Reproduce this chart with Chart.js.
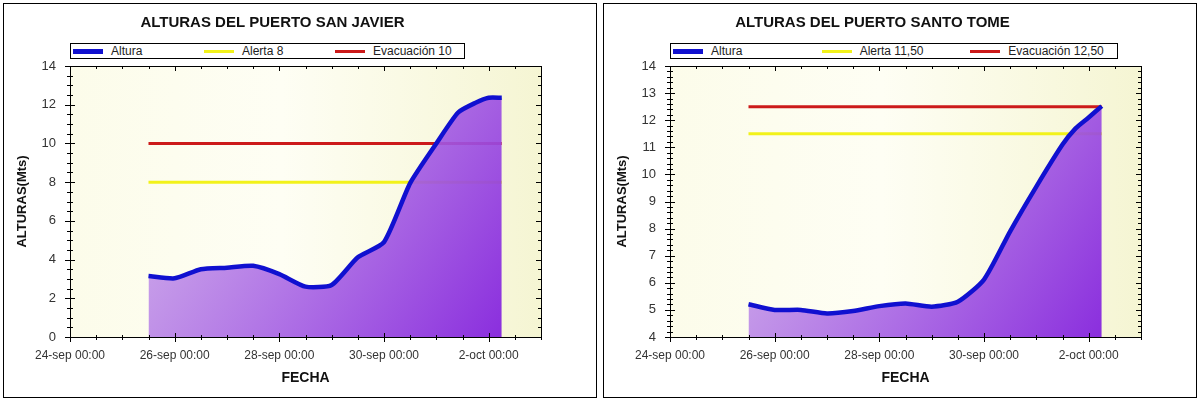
<!DOCTYPE html>
<html>
<head>
<meta charset="utf-8">
<script src="https://cdn.jsdelivr.net/npm/chart.js@4.4.1/dist/chart.umd.min.js"></script>
<style>
    body { margin: 0; background: #fff; width: 1200px; height: 402px; position: relative; overflow: hidden; font-family: 'Liberation Sans', Arial, sans-serif; }
    .panel { position: absolute; top: 3px; width: 592px; height: 393px; border: 1px solid #000; }
    #panel-sj { left: 3px; }
    #panel-st { left: 603px; }
    .panel canvas { position: absolute; left: 0; top: 0; }
    .leyenda { position: absolute; top: 39px; left: 66px; height: 14px; border: 1px solid #000; background: #fff; display: flex; font-size: 12px; color: #222; }
    .leyenda .item { flex: 1; display: flex; align-items: center; white-space: nowrap; }
    .leyenda .muestra { width: 30px; margin: 0 8px 0 2px; }
</style>
</head>
<body>
<div class="panel" id="panel-sj"><canvas id="chart-sj" width="592" height="393"></canvas><div class="leyenda" id="ley-sj" style="width:393px"></div></div>
<div class="panel" id="panel-st"><canvas id="chart-st" width="592" height="393"></canvas><div class="leyenda" id="ley-st" style="width:446px"></div></div>
<script>
// Eje X en horas desde el 24-sep 00:00
const horasTicks = [0, 48, 96, 144, 192];
const etiquetasFecha = ['24-sep 00:00', '26-sep 00:00', '28-sep 00:00', '30-sep 00:00', '2-oct 00:00'];

// Puerto San Javier
const horasSanJavier = [36, 48, 60, 72, 84, 96, 108, 120, 132, 144, 156, 168, 178, 186, 192, 198];
const alturasSanJavier = [3.15, 3.03, 3.5, 3.58, 3.68, 3.25, 2.6, 2.69, 4.12, 4.9, 7.95, 10.0, 11.6, 12.1, 12.36, 12.36];
const nivelesSanJavier = [8, 10];
const nombresSanJavier = ['Altura', 'Alerta 8', 'Evacuación 10'];

// Puerto Santo Tome
const horasSantoTome = [36, 48, 60, 72, 84, 96, 108, 120, 132, 144, 156, 168, 180, 186, 192, 198];
const alturasSantoTome = [5.21, 5.0, 5.0, 4.87, 4.96, 5.14, 5.24, 5.12, 5.3, 6.12, 7.9, 9.55, 11.1, 11.7, 12.1, 12.52];
const nivelesSantoTome = [11.5, 12.5];
const nombresSantoTome = ['Altura', 'Alerta 11,50', 'Evacuación 12,50'];

Chart.defaults.font.family = "'Liberation Sans', Arial, sans-serif";

const esMultiplo = (v, paso) => Math.abs(v / paso - Math.round(v / paso)) < 1e-6;

// Fondo del área de trazado, marco y marcas de los ejes en los cuatro lados
const marcoPlugin = {
    id: 'marco',
    beforeDraw(chart) {
        const { ctx, chartArea: a } = chart;
        const g = ctx.createLinearGradient(a.left, 0, a.right, 0);
        g.addColorStop(0, '#fcfcea');
        g.addColorStop(0.45, '#fefef4');
        g.addColorStop(1, '#f5f5d3');
        ctx.save();
        ctx.fillStyle = g;
        ctx.fillRect(a.left, a.top, a.right - a.left, a.bottom - a.top);
        ctx.restore();
    },
    afterDatasetsDraw(chart, args, opts) {
        const { ctx, chartArea: a, scales } = chart;
        ctx.save();
        ctx.strokeStyle = '#000';
        ctx.lineWidth = 1;
        ctx.beginPath();
        scales.x.ticks.forEach(t => {
            const px = Math.round(scales.x.getPixelForValue(t.value)) + 0.5;
            const mayor = esMultiplo(t.value, 48);
            ctx.moveTo(px, a.bottom - (mayor ? 4 : 2));
            ctx.lineTo(px, a.bottom + (mayor ? 5 : 3));
            ctx.moveTo(px, a.top);
            ctx.lineTo(px, a.top + (mayor ? 5 : 3));
        });
        scales.y.ticks.forEach(t => {
            const py = Math.round(scales.y.getPixelForValue(t.value)) + 0.5;
            const mayor = esMultiplo(t.value, opts.pasoY);
            ctx.moveTo(a.left - (mayor ? 5 : 3), py);
            ctx.lineTo(a.left + (mayor ? 5 : 3), py);
            ctx.moveTo(a.right, py);
            ctx.lineTo(a.right - (mayor ? 5 : 3), py);
        });
        ctx.stroke();
        ctx.strokeRect(Math.round(a.left) + 0.5, Math.round(a.top) + 0.5, Math.round(a.right - a.left), Math.round(a.bottom - a.top));
        ctx.restore();
    }
};

function crearGrafico(idCanvas, idLeyenda, titulo, horas, alturas, niveles, nombres, yMin, pasoMenor, pasoY) {
    const inicio = horas[0];
    const fin = horas[horas.length - 1];

    const chart = new Chart(document.getElementById(idCanvas), {
        type: 'line',
        data: {
            datasets: [
                {
                    label: nombres[0],
                    data: horas.map((h, i) => ({ x: h, y: alturas[i] })),
                    borderColor: '#1010d0',
                    borderWidth: 4.5,
                    pointRadius: 0,
                    tension: 0.2,
                    fill: 'start',
                    backgroundColor: (c) => {
                        const { chart, chartArea } = c.chart ? c : { chart: null };
                        if (!c.chart.chartArea) return 'rgba(170,120,225,0.85)';
                        const sx = c.chart.scales.x, sy = c.chart.scales.y;
                        const g = c.chart.ctx.createLinearGradient(
                            sx.getPixelForValue(inicio), sy.getPixelForValue(Math.max(...alturas)),
                            sx.getPixelForValue(fin), c.chart.chartArea.bottom);
                        g.addColorStop(0, 'rgba(205,170,235,0.82)');
                        g.addColorStop(1, 'rgba(134,38,222,0.96)');
                        return g;
                    }
                },
                {
                    label: nombres[1],
                    data: [{ x: inicio, y: niveles[0] }, { x: fin, y: niveles[0] }],
                    borderColor: '#f2f21a',
                    borderWidth: 3,
                    pointRadius: 0,
                    fill: false
                },
                {
                    label: nombres[2],
                    data: [{ x: inicio, y: niveles[1] }, { x: fin, y: niveles[1] }],
                    borderColor: '#cc1a1a',
                    borderWidth: 3,
                    pointRadius: 0,
                    fill: false
                }
            ]
        },
        options: {
            responsive: false,
            animation: false,
            layout: { padding: { right: 55 } },
            plugins: {
                title: { display: true, text: titulo, color: '#111', font: { size: 15, weight: 'bold' }, padding: { top: 10, bottom: 34 } },
                legend: { display: false },
                tooltip: { enabled: false },
                marco: { pasoY: pasoY }
            },
            scales: {
                x: {
                    type: 'linear', min: 0, max: 216,
                    afterFit: (s) => { s.height = 60; },
                    grid: { display: false, drawTicks: false },
                    border: { display: false },
                    ticks: {
                        stepSize: 12, autoSkip: false, maxRotation: 0, padding: 11,
                        color: '#333', font: { size: 12 },
                        callback: (v) => {
                            const i = horasTicks.indexOf(v);
                            return i >= 0 ? etiquetasFecha[i] : '';
                        }
                    },
                    title: { display: true, text: 'FECHA', color: '#111', font: { size: 14, weight: 'bold' }, padding: { top: 0, bottom: 10 } }
                },
                y: {
                    min: yMin, max: 14,
                    afterFit: (s) => { s.width = 66; },
                    grid: { display: false, drawTicks: false },
                    border: { display: false },
                    ticks: {
                        stepSize: pasoMenor, autoSkip: false, padding: 14,
                        color: '#333', font: { size: 13 },
                        callback: (v) => esMultiplo(v, pasoY) ? String(Math.round(v)) : ''
                    },
                    title: { display: true, text: 'ALTURAS(Mts)', color: '#111', font: { size: 13, weight: 'bold' }, padding: { top: 11, bottom: 0 } }
                }
            }
        },
        plugins: [marcoPlugin]
    });

    // Leyenda en un recuadro con tres columnas iguales
    document.getElementById(idLeyenda).innerHTML = chart.data.datasets.map((d, i) => `
        <div class="item"><span class="muestra" style="height:${i === 0 ? 5 : 3}px;background:${d.borderColor}"></span>${d.label}</div>
    `).join('');
    return chart;
}

crearGrafico('chart-sj', 'ley-sj', 'ALTURAS DEL PUERTO SAN JAVIER', horasSanJavier, alturasSanJavier, nivelesSanJavier, nombresSanJavier, 0, 0.5, 2);
crearGrafico('chart-st', 'ley-st', 'ALTURAS DEL PUERTO SANTO TOME', horasSantoTome, alturasSantoTome, nivelesSantoTome, nombresSantoTome, 4, 0.2, 1);
</script>
</body>
</html>
